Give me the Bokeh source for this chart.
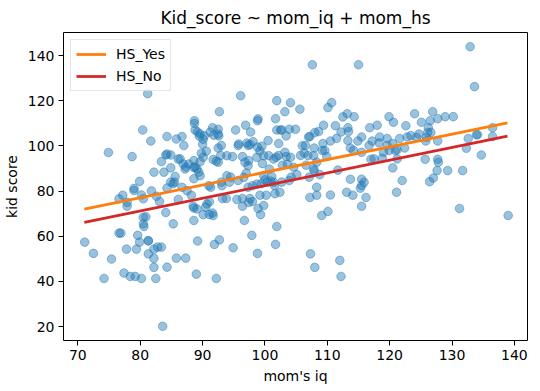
from bokeh.plotting import figure
from bokeh.models import Range1d, FixedTicker, Legend, LegendItem, ColumnDataSource
from bokeh.embed import file_html
from bokeh.resources import INLINE

# ---- data ----
points = [
(132.9,144.0),(107.6,136.0),(115.0,136.0),(133.6,126.3),(81.2,123.2),(96.1,122.3),(101.9,120.1),(104.1,119.2),(110.7,119.2),(110.1,117.0),
(105.6,116.3),(92.7,115.2),(103.2,115.2),(126.9,115.2),(124.0,114.3),(113.2,114.3),(112.5,112.9),(114.3,113.0),(119.9,113.0),(128.9,113.0),
(130.2,113.0),(127.7,112.1),(126.5,111.2),(120.6,110.5),(125.1,110.5),(88.7,111.2),(98.9,112.0),(98.8,111.2),(101.7,112.1),(104.9,107.4),
(96.9,109.2),(91.6,108.1),(92.5,107.4),(91.2,106.2),(95.3,107.1),(97.7,106.2),(101.9,107.1),(102.5,107.1),(103.9,107.4),(109.4,109.2),
(111.3,109.0),(113.3,108.1),(116.8,108.1),(118.0,109.2),(122.6,109.0),(126.2,108.1),(136.5,108.1),(80.4,107.1),(88.8,107.1),(89.2,106.2),
(89.6,105.3),(90.3,104.5),(90.1,103.0),(84.3,104.2),(81.7,102.2),(85.8,103.1),(86.7,104.2),(87.0,100.2),(92.6,104.5),(92.5,105.3),
(97.6,100.6),(98.1,101.9),(99.2,97.8),(99.5,99.9),(98.8,99.5),(97.3,100.2),(95.7,100.2),(92.5,99.1),(93.0,100.2),(90.6,97.7),
(90.0,100.8),(89.8,96.8),(90.1,95.0),(89.6,93.0),(88.6,90.5),(100.5,102.4),(102.2,101.1),(103.4,104.5),(102.7,107.1),(106.0,100.1),
(106.5,100.2),(107.2,104.2),(107.0,104.0),(108.0,106.0),(108.6,106.4),(107.9,99.1),(109.3,101.1),(109.6,98.0),(110.5,102.2),(111.5,103.4),
(112.2,106.2),(113.4,106.4),(113.3,102.4),(113.7,99.1),(114.9,102.2),(115.5,104.0),(114.2,98.1),(115.5,97.2),(116.7,100.2),(117.2,102.2),
(118.4,104.0),(118.3,101.4),(119.6,103.3),(119.6,100.2),(120.5,101.1),(121.6,103.3),(122.4,99.1),(122.8,104.0),(123.4,104.6),(124.3,103.9),
(124.7,105.3),(126.1,106.0),(126.6,106.0),(125.8,102.2),(125.9,103.9),(127.7,102.2),(132.6,103.3),(132.3,99.0),(133.9,105.0),(134.1,105.0),
(136.5,104.2),(134.7,96.0),(119.9,98.0),(120.9,98.0),(118.8,94.6),(117.5,94.3),(117.0,94.1),(119.0,97.2),(120.5,90.3),(121.2,94.3),
(121.2,98.3),(125.7,94.1),(127.7,94.1),(127.8,92.8),(127.6,89.1),(129.3,89.1),(131.7,89.1),(126.4,84.2),(127.0,85.8),(122.0,84.7),
(121.1,79.5),(113.7,85.3),(113.1,79.5),(114.1,78.2),(115.3,81.3),(115.5,82.5),(115.9,83.9),(115.5,85.3),(116.2,77.2),(115.5,73.3),
(111.7,89.3),(110.5,78.3),(110.1,71.0),(109.1,69.2),(108.3,81.7),(108.3,78.2),(107.2,77.2),(107.1,86.2),(107.9,89.1),(106.6,91.5),
(131.2,72.3),(139.0,69.2),(107.3,52.2),(108.0,46.2),(112.0,49.3),(112.2,42.2),(101.9,64.3),(101.7,56.4),(98.8,52.4),(97.9,60.4),
(96.7,67.0),(92.7,58.4),(91.9,56.4),(94.9,54.9),(92.2,41.3),(89.0,43.2),(89.2,57.9),(88.6,67.0),(88.6,72.5),(87.3,50.3),
(85.8,50.3),(85.3,65.5),(84.3,46.3),(83.6,20.1),(83.4,55.2),(82.8,55.2),(82.5,41.3),(82.2,50.2),(82.2,46.2),(82.2,54.3),
(81.3,52.2),(81.3,57.9),(80.9,68.6),(80.6,64.3),(80.5,65.5),(80.2,41.3),(79.9,57.4),(79.6,60.4),(79.4,54.3),(79.2,42.2),
(78.4,42.2),(77.4,43.7),(77.8,54.3),(76.6,61.4),(76.9,61.4),(75.4,49.9),(74.2,41.3),(72.5,52.4),(71.1,57.4),(74.9,97.1),
(78.7,95.3),(79.0,81.2),(79.0,80.3),(79.9,84.3),(80.2,78.3),(80.5,76.6),(77.2,78.2),(76.6,76.6),(77.9,73.3),(77.9,75.0),
(81.8,80.1),(82.2,88.4),(82.6,77.7),(83.1,75.4),(83.4,93.1),(84.1,96.0),(83.8,88.4),(84.3,81.4),(84.1,70.5),(84.9,90.3),
(84.9,84.0),(85.3,83.3),(85.5,84.0),(84.9,96.0),(85.6,86.5),(86.1,76.3),(86.4,94.3),(86.7,81.7),(86.9,92.0),(87.3,90.7),
(87.8,92.0),(88.2,78.2),(88.5,73.3),(88.6,85.5),(88.8,90.7),(89.4,88.4),(90.1,69.6),(90.5,72.9),(91.1,69.6),(91.6,70.3),
(91.7,69.2),(91.1,75.3),(91.3,81.7),(91.7,94.0),(92.2,93.3),(92.5,92.8),(92.9,95.8),(93.0,84.0),(93.2,76.7),(93.8,76.7),
(94.3,84.0),(94.5,86.2),(94.8,95.3),(95.7,84.7),(95.5,76.3),(96.4,76.7),(96.4,73.3),(96.4,95.3),(96.8,92.8),(97.0,88.0),
(97.3,81.7),(97.6,76.7),(98.0,75.4),(98.0,82.4),(97.3,91.3),(98.9,72.3),(99.3,69.6),(99.2,78.2),(99.4,83.3),(99.6,92.2),
(99.8,86.9),(100.2,78.2),(100.4,84.0),(100.7,89.8),(101.1,86.5),(101.5,82.5),(101.6,78.9),(101.8,95.0),(102.2,95.8),(102.4,79.5),
(102.7,84.0),(102.8,91.5),(103.2,97.2),(103.4,95.3),(103.6,91.9),(103.9,84.7),(104.2,86.2),(104.6,90.6),(105.1,87.3),(105.7,95.8),
(106.3,96.9),(106.9,95.8),(107.8,89.9),(108.8,87.3),(109.2,98.0),(109.9,95.3),
(89.1,89.8),(89.6,86.8),(93.9,95.7),(98.7,95.0),(99.8,95.7),(100.6,95.7),(101.4,94.2),(104.1,95.0),(107.8,95.7),(93.9,86.8),
(96.6,86.1),(98.7,83.1),(101.4,83.9),(100.0,85.0),(100.9,84.5),(87.5,80.2),(91.0,82.4),(93.1,82.4),(108.3,92.8),(88.6,93.5),
(97.4,93.5),(86.1,94.2),(87.2,89.8),(84.3,96.4),(88.7,110.0),(89.5,104.3),(91.8,104.8),(95.8,100.9),(97.1,101.3),(81.3,58.1),
(80.5,68.4),(89.1,72.1),(90.7,74.3),(97.4,75.0),(99.8,73.6),
]
mom_iq = [pt[0] for pt in points]
kid_score = [pt[1] for pt in points]

line_iq = [71.04, 138.89]
hs_yes_fit = [72.0, 110.3]
hs_no_fit = [66.1, 104.4]

x_ticks = [70, 80, 90, 100, 110, 120, 130, 140]
y_ticks = [20, 40, 60, 80, 100, 120, 140]

FONT = "DejaVu Sans"

p = figure(frame_width=464, frame_height=308, output_backend="svg", toolbar_location=None,
           x_range=Range1d(67.70, 142.1), y_range=Range1d(13.8, 150.3),
           title="Kid_score ~ mom_iq + mom_hs",
           min_border_left=59, min_border_right=1, min_border_bottom=45, min_border_top=0)

p.title.align = "center"
p.title.text_font = FONT
p.title.text_font_size = "17px"
p.title.text_font_style = "normal"
p.title.text_color = "black"

p.xgrid.visible = False
p.ygrid.visible = False
p.outline_line_color = "black"
p.outline_line_width = 1

src = ColumnDataSource(dict(x=mom_iq, y=kid_score))
p.scatter("x", "y", source=src, marker="circle", size=8.6,
          fill_color="#1f77b4", fill_alpha=0.45,
          line_color="#1f77b4", line_alpha=0.45, line_width=1)

r_yes = p.line(line_iq, hs_yes_fit, line_color="#ff7f0e", line_width=2.8)
r_no = p.line(line_iq, hs_no_fit, line_color="#d62728", line_width=2.8)

for ax in (p.xaxis[0], p.yaxis[0]):
    ax.major_tick_in = 0
    ax.major_tick_out = 5
    ax.minor_tick_line_color = None
    ax.major_label_text_font = FONT
    ax.major_label_text_font_size = "14px"
    ax.major_label_text_color = "black"
    ax.axis_label_text_font = FONT
    ax.axis_label_text_font_size = "14px"
    ax.axis_label_text_font_style = "normal"
    ax.axis_label_text_color = "black"
    ax.axis_line_color = None
    ax.major_label_standoff = 4
    ax.axis_label_standoff = 5

p.xaxis.ticker = FixedTicker(ticks=x_ticks)
p.yaxis.ticker = FixedTicker(ticks=y_ticks)
p.xaxis.axis_label = "mom's iq"
p.yaxis.axis_label = "kid score"

legend = Legend(items=[LegendItem(label="HS_Yes", renderers=[r_yes]),
                       LegendItem(label="HS_No", renderers=[r_no])],
                location="top_left")
legend.label_text_font = FONT
legend.label_text_font_size = "14px"
legend.label_text_color = "black"
legend.glyph_width = 30
legend.glyph_height = 18
legend.label_height = 18
legend.label_standoff = 10
legend.spacing = 4
legend.padding = 5
legend.margin = 7
legend.border_line_color = "#cccccc"
legend.background_fill_alpha = 0.8
p.add_layout(legend)

open("out.html", "w").write(file_html(p, INLINE))
